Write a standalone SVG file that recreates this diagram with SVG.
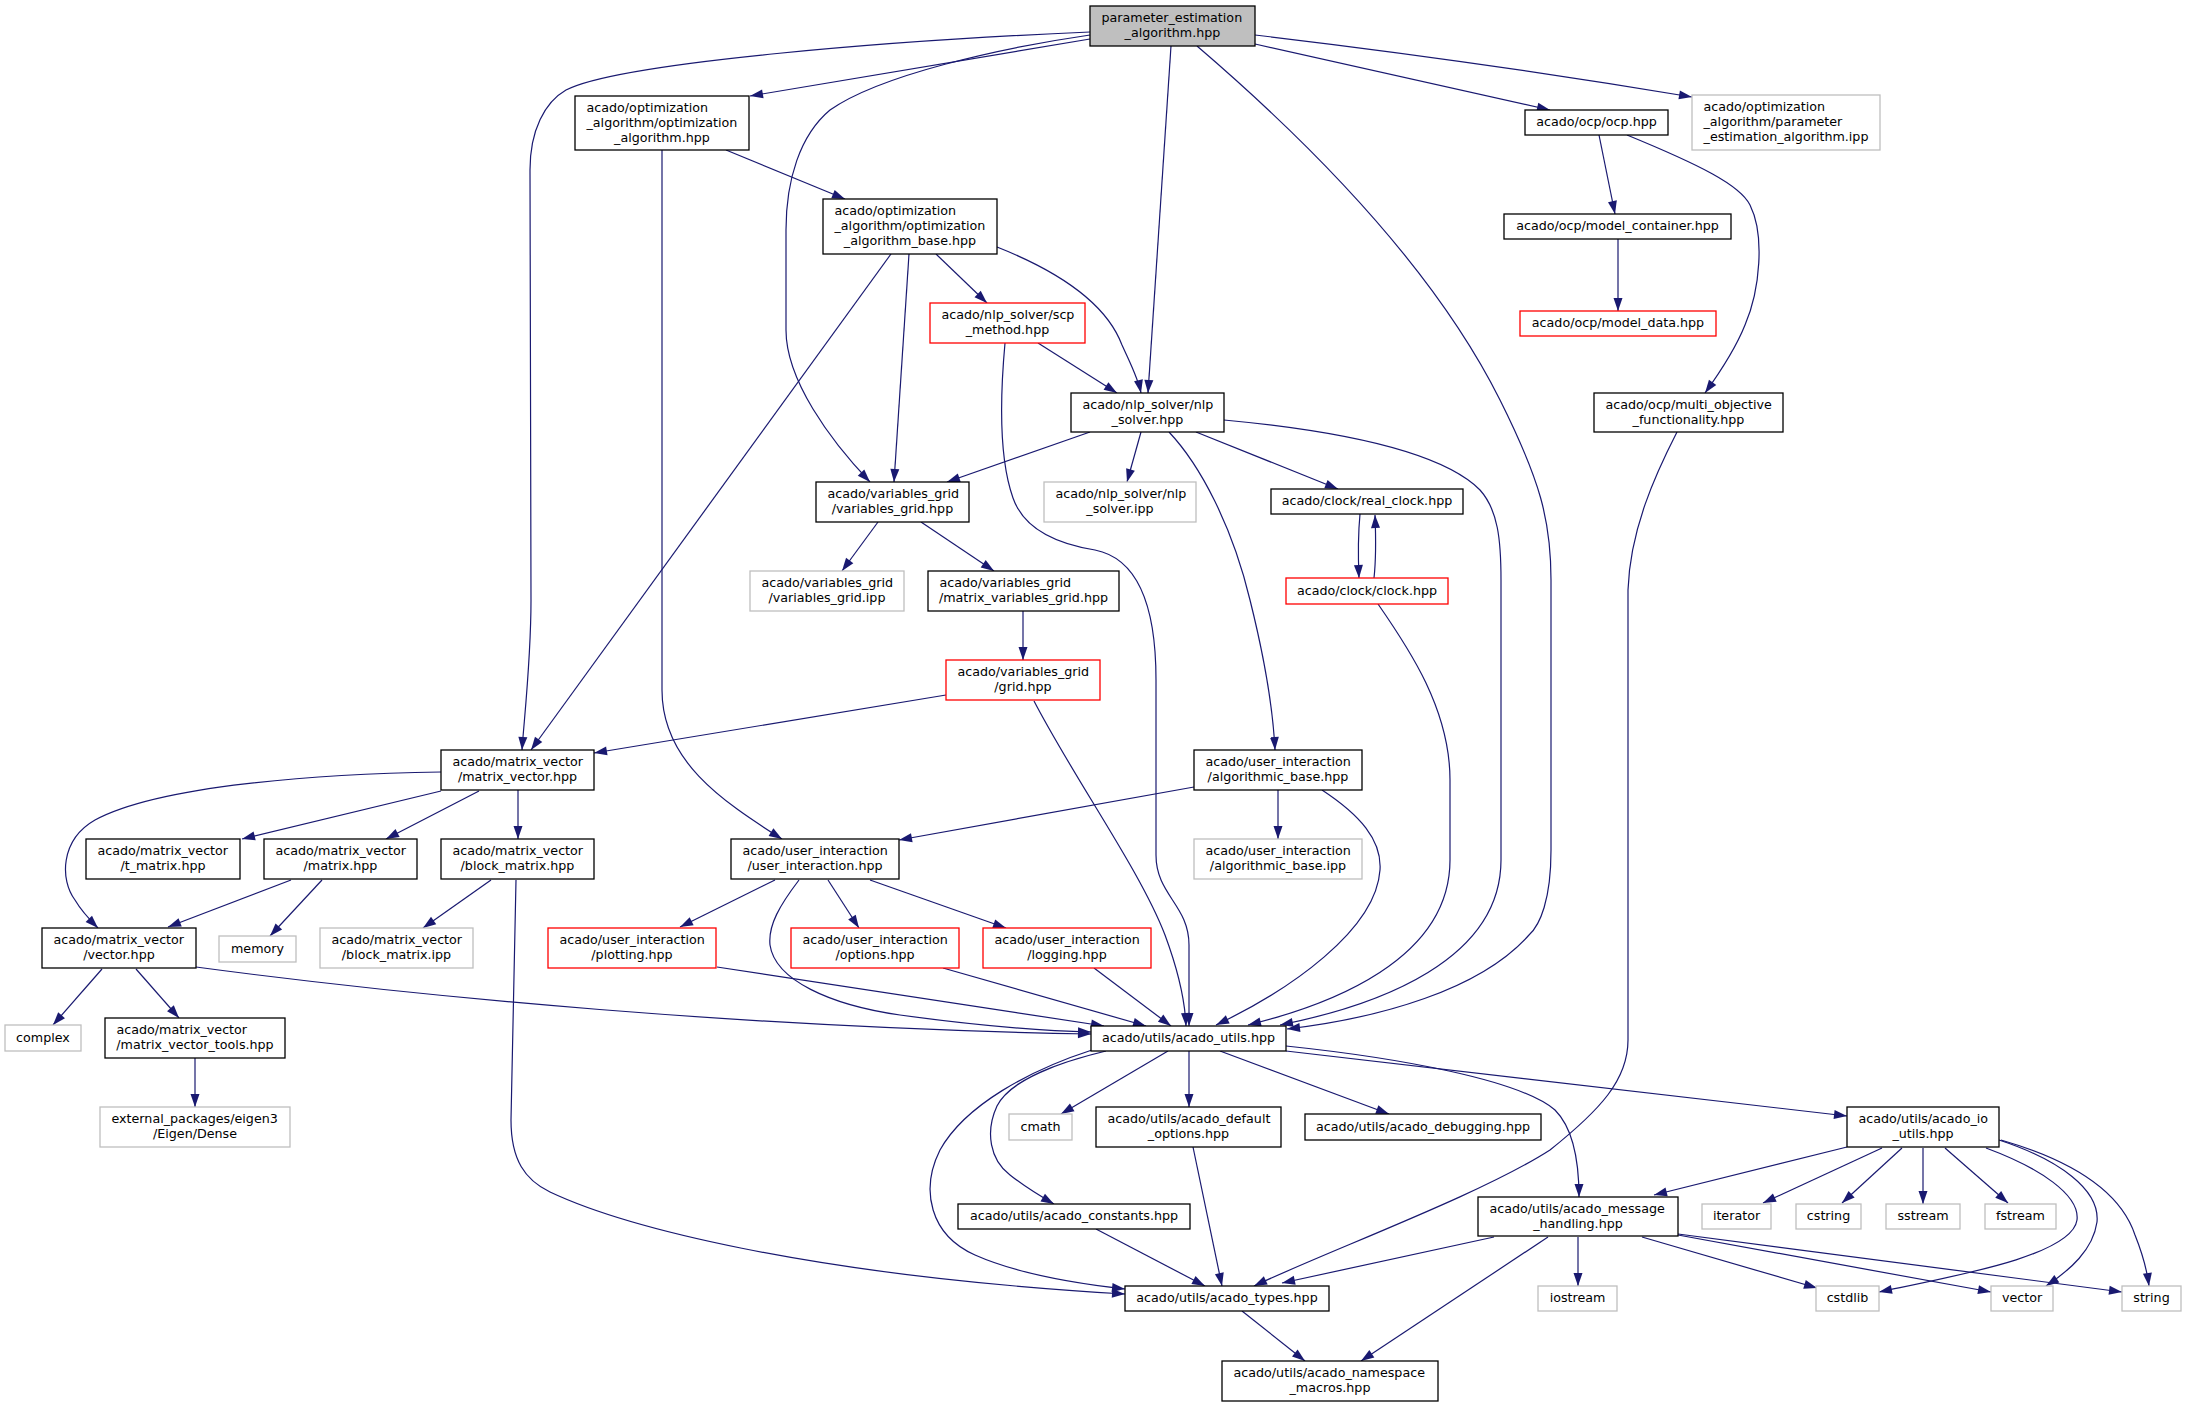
<svg xmlns="http://www.w3.org/2000/svg" width="2186" height="1407" viewBox="0 0 2186 1407">
<defs>
<marker id="a" markerWidth="13" markerHeight="9" refX="13" refY="4.5" orient="auto" markerUnits="userSpaceOnUse" overflow="visible"><path d="M0,0 L13,4.5 L0,9 z" fill="#191970"/></marker>
<style>
.node rect{fill:#fff;stroke:#000;stroke-width:1.3}
.node.g rect{stroke:#bfbfbf}
.node.r rect{stroke:#ff0000}
.node.root rect{fill:#bfbfbf}
text{font-family:"DejaVu Sans","Liberation Sans",sans-serif;font-size:12.7px;fill:#000}
.c{text-anchor:middle}
.l{text-anchor:start}
#edges path{fill:none;stroke:#191970;stroke-width:1.2;marker-end:url(#a)}
</style>
</defs>
<rect width="2186" height="1407" fill="#fff"/>
<g id="edges">
<path d="M1090,39 L750,96"/>
<path d="M1090,32 C900,40 620,62 566,90 C545,102 530,130 530,170 L531,600 C531,660 524,720 522,750"/>
<path d="M1090,35 C1000,48 880,75 830,110 C800,135 786,180 786,230 L786,330 C786,380 830,440 870,482"/>
<path d="M1171,46 L1148,393"/>
<path d="M1197,46 C1330,160 1440,280 1500,400 C1540,480 1551,520 1551,580 L1551,850 C1551,900 1540,925 1529,935 C1480,990 1380,1018 1287,1029"/>
<path d="M1255,44 L1550,110"/>
<path d="M1255,35 C1400,52 1560,75 1692,97"/>
<path d="M726,150 L845,199"/>
<path d="M662,150 L662,690 C662,760 720,800 782,839"/>
<path d="M891,254 L531,750"/>
<path d="M909,254 L894,482"/>
<path d="M936,254 L987,303"/>
<path d="M997,247 C1050,268 1105,300 1122,345 C1131,365 1138,378 1141,393"/>
<path d="M1038,343 L1117,393"/>
<path d="M1005,343 C998,420 1003,470 1013,498 C1026,535 1070,546 1095,550 C1135,558 1156,600 1156,680 L1156,855 C1156,895 1189,905 1189,945 L1189,1026"/>
<path d="M1090,432 L947,482"/>
<path d="M1141,432 L1127,482"/>
<path d="M1196,432 L1338,489"/>
<path d="M1169,432 C1200,465 1232,525 1250,600 C1265,660 1273,710 1275,750"/>
<path d="M1224,420 C1330,430 1440,450 1480,490 C1498,510 1501,540 1501,580 L1501,860 C1501,960 1380,1005 1280,1025"/>
<path d="M1194,787 L899,840"/>
<path d="M1278,790 L1278,839"/>
<path d="M1322,790 C1360,815 1382,840 1380,870 C1376,930 1290,990 1216,1025"/>
<path d="M1374,578 C1376,560 1376,540 1375,515"/>
<path d="M1360,514 C1358,535 1358,555 1359,578"/>
<path d="M1378,604 C1410,650 1450,710 1450,780 L1450,860 C1450,960 1330,1005 1248,1025"/>
<path d="M1599,135 L1615,214"/>
<path d="M1627,135 C1700,165 1740,185 1750,205 C1765,235 1760,290 1745,325 C1735,350 1718,375 1705,393"/>
<path d="M1618,239 L1618,311"/>
<path d="M1677,432 C1655,475 1630,530 1628,590 L1628,1040 C1628,1080 1600,1110 1550,1150 C1480,1195 1330,1250 1254,1286"/>
<path d="M441,772 C320,774 160,785 95,820 C60,840 60,880 75,900 C82,912 90,920 98,928"/>
<path d="M441,791 L242,839"/>
<path d="M479,791 L386,839"/>
<path d="M518,790 L518,839"/>
<path d="M291,880 L168,927"/>
<path d="M322,880 L270,936"/>
<path d="M491,880 L423,928"/>
<path d="M516,880 L511,1120 C511,1160 525,1180 550,1192 C620,1225 800,1275 1125,1294"/>
<path d="M102,969 L53,1025"/>
<path d="M136,969 L179,1018"/>
<path d="M196,967 C420,997 750,1028 1091,1034"/>
<path d="M195,1058 L195,1107"/>
<path d="M878,522 L842,571"/>
<path d="M921,522 L994,571"/>
<path d="M1023,611 L1023,660"/>
<path d="M946,695 L594,753"/>
<path d="M1034,701 C1075,780 1140,870 1165,935 C1178,970 1185,1000 1186,1026"/>
<path d="M1094,968 L1171,1026"/>
<path d="M943,968 L1146,1026"/>
<path d="M717,967 L1104,1026"/>
<path d="M775,880 L680,927"/>
<path d="M828,880 L859,928"/>
<path d="M870,880 L1006,928"/>
<path d="M799,880 C780,905 768,925 770,945 C775,980 830,1005 900,1015 C980,1026 1050,1031 1091,1032"/>
<path d="M1189,1051 L1189,1107"/>
<path d="M1220,1051 L1389,1114"/>
<path d="M1168,1051 L1061,1114"/>
<path d="M1106,1051 C1060,1062 1010,1080 997,1106 C985,1132 990,1160 1010,1175 C1025,1187 1040,1196 1054,1204"/>
<path d="M1092,1050 C1030,1070 965,1105 940,1150 C920,1190 930,1235 975,1255 C1020,1275 1080,1284 1125,1289"/>
<path d="M1286,1046 C1400,1058 1520,1080 1555,1110 C1575,1130 1579,1165 1579,1197"/>
<path d="M1286,1051 L1847,1116"/>
<path d="M1193,1147 L1222,1286"/>
<path d="M1096,1229 L1205,1286"/>
<path d="M1242,1311 L1305,1361"/>
<path d="M1494,1237 L1282,1283"/>
<path d="M1548,1237 L1361,1361"/>
<path d="M1578,1237 L1578,1286"/>
<path d="M1642,1237 L1817,1288"/>
<path d="M1678,1235 L1991,1292"/>
<path d="M1678,1234 L2122,1292"/>
<path d="M1847,1147 L1654,1195"/>
<path d="M1882,1148 L1763,1203"/>
<path d="M1902,1148 L1842,1203"/>
<path d="M1923,1148 L1923,1204"/>
<path d="M1945,1148 L2008,1203"/>
<path d="M1986,1148 C2040,1168 2080,1195 2077,1220 C2072,1255 1960,1275 1879,1292"/>
<path d="M1999,1140 C2060,1160 2100,1190 2097,1222 C2093,1250 2070,1270 2046,1286"/>
<path d="M2001,1140 C2070,1160 2120,1190 2135,1235 C2143,1255 2147,1270 2149,1286"/>
</g>
<g id="n_root" class="node root"><rect x="1090" y="6" width="165" height="40"/><text class="l" x="1101.5" y="22.3">parameter_estimation</text><text class="c" x="1172.5" y="37.3">_algorithm.hpp</text></g>
<g id="n_opt_alg" class="node"><rect x="575" y="96" width="174" height="54"/><text class="l" x="586.5" y="112.3">acado/optimization</text><text class="l" x="586.5" y="127.3">_algorithm/optimization</text><text class="c" x="662" y="142.3">_algorithm.hpp</text></g>
<g id="n_opt_alg_base" class="node"><rect x="823" y="199" width="174" height="55"/><text class="l" x="834.5" y="215.3">acado/optimization</text><text class="l" x="834.5" y="230.3">_algorithm/optimization</text><text class="c" x="910" y="245.3">_algorithm_base.hpp</text></g>
<g id="n_scp" class="node r"><rect x="930" y="303" width="155" height="40"/><text class="l" x="941.5" y="319.3">acado/nlp_solver/scp</text><text class="c" x="1007.5" y="334.3">_method.hpp</text></g>
<g id="n_nlp" class="node"><rect x="1071" y="393" width="153" height="39"/><text class="l" x="1082.5" y="409.3">acado/nlp_solver/nlp</text><text class="c" x="1147.5" y="424.3">_solver.hpp</text></g>
<g id="n_ocp" class="node"><rect x="1525" y="110" width="143" height="25"/><text class="c" x="1596.5" y="126.3">acado/ocp/ocp.hpp</text></g>
<g id="n_model_container" class="node"><rect x="1504" y="214" width="227" height="25"/><text class="c" x="1617.5" y="230.3">acado/ocp/model_container.hpp</text></g>
<g id="n_model_data" class="node r"><rect x="1520" y="311" width="196" height="25"/><text class="c" x="1618" y="327.3">acado/ocp/model_data.hpp</text></g>
<g id="n_multi_obj" class="node"><rect x="1594" y="393" width="189" height="39"/><text class="l" x="1605.5" y="409.3">acado/ocp/multi_objective</text><text class="c" x="1688.5" y="424.3">_functionality.hpp</text></g>
<g id="n_param_ipp" class="node g"><rect x="1692" y="95" width="188" height="55"/><text class="l" x="1703.5" y="111.3">acado/optimization</text><text class="l" x="1703.5" y="126.3">_algorithm/parameter</text><text class="c" x="1786" y="141.3">_estimation_algorithm.ipp</text></g>
<g id="n_vgrid" class="node"><rect x="816" y="482" width="153" height="40"/><text class="l" x="827.5" y="498.3">acado/variables_grid</text><text class="c" x="892.5" y="513.3">/variables_grid.hpp</text></g>
<g id="n_nlp_ipp" class="node g"><rect x="1044" y="482" width="152" height="40"/><text class="l" x="1055.5" y="498.3">acado/nlp_solver/nlp</text><text class="c" x="1120" y="513.3">_solver.ipp</text></g>
<g id="n_real_clock" class="node"><rect x="1271" y="489" width="192" height="25"/><text class="c" x="1367" y="505.3">acado/clock/real_clock.hpp</text></g>
<g id="n_clock" class="node r"><rect x="1286" y="578" width="162" height="26"/><text class="c" x="1367" y="594.5">acado/clock/clock.hpp</text></g>
<g id="n_vg_ipp" class="node g"><rect x="750" y="571" width="154" height="40"/><text class="l" x="761.5" y="587.3">acado/variables_grid</text><text class="c" x="827" y="602.3">/variables_grid.ipp</text></g>
<g id="n_mvg" class="node"><rect x="928" y="571" width="191" height="40"/><text class="l" x="939.5" y="587.3">acado/variables_grid</text><text class="c" x="1023.5" y="602.3">/matrix_variables_grid.hpp</text></g>
<g id="n_grid" class="node r"><rect x="946" y="660" width="154" height="40"/><text class="l" x="957.5" y="676.3">acado/variables_grid</text><text class="c" x="1023" y="691.3">/grid.hpp</text></g>
<g id="n_mv" class="node"><rect x="441" y="750" width="153" height="40"/><text class="l" x="452.5" y="766.3">acado/matrix_vector</text><text class="c" x="517.5" y="781.3">/matrix_vector.hpp</text></g>
<g id="n_alg_base" class="node"><rect x="1194" y="750" width="168" height="40"/><text class="l" x="1205.5" y="766.3">acado/user_interaction</text><text class="c" x="1278" y="781.3">/algorithmic_base.hpp</text></g>
<g id="n_t_matrix" class="node"><rect x="86" y="839" width="154" height="40"/><text class="l" x="97.5" y="855.3">acado/matrix_vector</text><text class="c" x="163" y="870.3">/t_matrix.hpp</text></g>
<g id="n_matrix" class="node"><rect x="264" y="839" width="153" height="40"/><text class="l" x="275.5" y="855.3">acado/matrix_vector</text><text class="c" x="340.5" y="870.3">/matrix.hpp</text></g>
<g id="n_block_matrix" class="node"><rect x="441" y="839" width="153" height="40"/><text class="l" x="452.5" y="855.3">acado/matrix_vector</text><text class="c" x="517.5" y="870.3">/block_matrix.hpp</text></g>
<g id="n_user_interaction" class="node"><rect x="731" y="839" width="168" height="40"/><text class="l" x="742.5" y="855.3">acado/user_interaction</text><text class="c" x="815" y="870.3">/user_interaction.hpp</text></g>
<g id="n_alg_ipp" class="node g"><rect x="1194" y="839" width="168" height="40"/><text class="l" x="1205.5" y="855.3">acado/user_interaction</text><text class="c" x="1278" y="870.3">/algorithmic_base.ipp</text></g>
<g id="n_vector" class="node"><rect x="42" y="928" width="154" height="40"/><text class="l" x="53.5" y="944.3">acado/matrix_vector</text><text class="c" x="119" y="959.3">/vector.hpp</text></g>
<g id="n_memory" class="node g"><rect x="219" y="936" width="77" height="26"/><text class="c" x="257.5" y="952.5">memory</text></g>
<g id="n_bm_ipp" class="node g"><rect x="320" y="928" width="153" height="40"/><text class="l" x="331.5" y="944.3">acado/matrix_vector</text><text class="c" x="396.5" y="959.3">/block_matrix.ipp</text></g>
<g id="n_plotting" class="node r"><rect x="548" y="928" width="168" height="40"/><text class="l" x="559.5" y="944.3">acado/user_interaction</text><text class="c" x="632" y="959.3">/plotting.hpp</text></g>
<g id="n_options" class="node r"><rect x="791" y="928" width="168" height="40"/><text class="l" x="802.5" y="944.3">acado/user_interaction</text><text class="c" x="875" y="959.3">/options.hpp</text></g>
<g id="n_logging" class="node r"><rect x="983" y="928" width="168" height="40"/><text class="l" x="994.5" y="944.3">acado/user_interaction</text><text class="c" x="1067" y="959.3">/logging.hpp</text></g>
<g id="n_complex" class="node g"><rect x="5" y="1025" width="76" height="26"/><text class="c" x="43" y="1041.5">complex</text></g>
<g id="n_mv_tools" class="node"><rect x="105" y="1018" width="180" height="40"/><text class="l" x="116.5" y="1034.3">acado/matrix_vector</text><text class="c" x="195" y="1049.3">/matrix_vector_tools.hpp</text></g>
<g id="n_utils" class="node"><rect x="1091" y="1026" width="195" height="25"/><text class="c" x="1188.5" y="1042.3">acado/utils/acado_utils.hpp</text></g>
<g id="n_eigen" class="node g"><rect x="100" y="1107" width="190" height="40"/><text class="l" x="111.5" y="1123.3">external_packages/eigen3</text><text class="c" x="195" y="1138.3">/Eigen/Dense</text></g>
<g id="n_cmath" class="node g"><rect x="1009" y="1114" width="63" height="26"/><text class="c" x="1040.5" y="1130.5">cmath</text></g>
<g id="n_default_options" class="node"><rect x="1096" y="1107" width="185" height="40"/><text class="l" x="1107.5" y="1123.3">acado/utils/acado_default</text><text class="c" x="1188.5" y="1138.3">_options.hpp</text></g>
<g id="n_debugging" class="node"><rect x="1305" y="1114" width="236" height="26"/><text class="c" x="1423" y="1130.5">acado/utils/acado_debugging.hpp</text></g>
<g id="n_io_utils" class="node"><rect x="1847" y="1107" width="152" height="40"/><text class="l" x="1858.5" y="1123.3">acado/utils/acado_io</text><text class="c" x="1923" y="1138.3">_utils.hpp</text></g>
<g id="n_constants" class="node"><rect x="958" y="1204" width="232" height="25"/><text class="c" x="1074" y="1220.3">acado/utils/acado_constants.hpp</text></g>
<g id="n_message" class="node"><rect x="1478" y="1197" width="200" height="39"/><text class="l" x="1489.5" y="1213.3">acado/utils/acado_message</text><text class="c" x="1578" y="1228.3">_handling.hpp</text></g>
<g id="n_iterator" class="node g"><rect x="1702" y="1204" width="69" height="25"/><text class="c" x="1736.5" y="1220.3">iterator</text></g>
<g id="n_cstring" class="node g"><rect x="1796" y="1204" width="65" height="25"/><text class="c" x="1828.5" y="1220.3">cstring</text></g>
<g id="n_sstream" class="node g"><rect x="1886" y="1204" width="74" height="25"/><text class="c" x="1923" y="1220.3">sstream</text></g>
<g id="n_fstream" class="node g"><rect x="1985" y="1204" width="71" height="25"/><text class="c" x="2020.5" y="1220.3">fstream</text></g>
<g id="n_types" class="node"><rect x="1125" y="1286" width="204" height="25"/><text class="c" x="1227" y="1302.3">acado/utils/acado_types.hpp</text></g>
<g id="n_iostream" class="node g"><rect x="1538" y="1286" width="79" height="25"/><text class="c" x="1577.5" y="1302.3">iostream</text></g>
<g id="n_cstdlib" class="node g"><rect x="1816" y="1286" width="63" height="25"/><text class="c" x="1847.5" y="1302.3">cstdlib</text></g>
<g id="n_std_vector" class="node g"><rect x="1991" y="1286" width="62" height="25"/><text class="c" x="2022" y="1302.3">vector</text></g>
<g id="n_string" class="node g"><rect x="2122" y="1286" width="59" height="25"/><text class="c" x="2151.5" y="1302.3">string</text></g>
<g id="n_namespace" class="node"><rect x="1222" y="1361" width="216" height="40"/><text class="l" x="1233.5" y="1377.3">acado/utils/acado_namespace</text><text class="c" x="1330" y="1392.3">_macros.hpp</text></g>
</svg>
